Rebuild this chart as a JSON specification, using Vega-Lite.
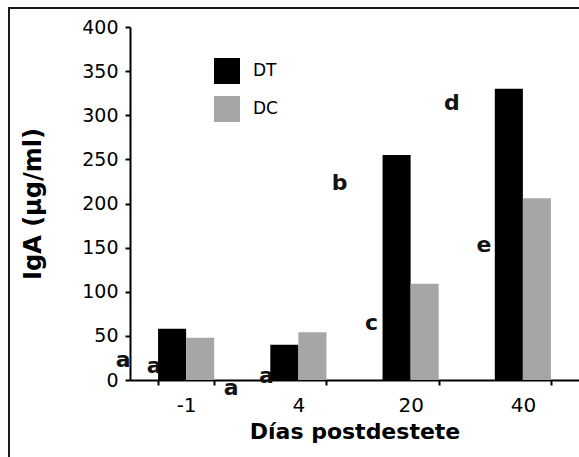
{
  "$schema": "https://vega.github.io/schema/vega-lite/v6.json",
  "width": 570,
  "height": 449,
  "padding": {"left": 9, "top": 8, "right": 0, "bottom": 0},
  "autosize": {"type": "none"},
  "background": "white",
  "config": {
    "font": "DejaVu Sans",
    "view": {"stroke": "#1a1a1a", "strokeWidth": 2, "strokeDash": [570, 1019, 449, 10]}
  },
  "encoding": {
    "x": {
      "field": "dia",
      "type": "ordinal",
      "sort": ["-1", "4", "20", "40"],
      "scale": {"range": [121, 570], "paddingInner": 0.5, "paddingOuter": 0.25},
      "axis": {
        "title": "Días postdestete",
        "offset": -77,
        "tickBand": "extent",
        "tickSize": 5,
        "tickWidth": 2,
        "tickColor": "black",
        "domainColor": "black",
        "domainWidth": 2,
        "labelAngle": 0,
        "labelPadding": 10,
        "labelFontSize": 20,
        "labelColor": "black",
        "titleFontSize": 22,
        "titleFontWeight": "bold",
        "titleColor": "black",
        "titlePadding": 6,
        "grid": false
      }
    },
    "y": {
      "field": "valor",
      "type": "quantitative",
      "scale": {"domain": [0, 400], "range": [372, 19], "nice": false},
      "axis": {
        "title": "IgA (µg/ml)",
        "offset": -121,
        "values": [0, 50, 100, 150, 200, 250, 300, 350, 400],
        "tickSize": 5,
        "tickWidth": 2,
        "tickColor": "black",
        "domainColor": "black",
        "domainWidth": 2,
        "labelPadding": 7,
        "labelFontSize": 19,
        "labelColor": "black",
        "titleFontSize": 24,
        "titleFontWeight": "bold",
        "titleColor": "black",
        "titlePadding": 36,
        "grid": false
      }
    }
  },
  "layer": [
    {
      "data": {"values": [{"dia": "-1", "letra": "a", "valor": 8}, {"dia": "4", "letra": "a", "valor": -3}]},
      "mark": {"type": "text", "dx": -32, "align": "center", "baseline": "alphabetic", "fontSize": 22, "fontWeight": "bold", "font": "DejaVu Sans", "color": "#111111"},
      "encoding": {"text": {"field": "letra"}}
    },
    {
      "data": {"values": [{"dia": "20", "letra": "c", "valor": 57}, {"dia": "40", "letra": "e", "valor": 145}]},
      "mark": {"type": "text", "dx": -39, "align": "center", "baseline": "alphabetic", "fontSize": 22, "fontWeight": "bold", "font": "DejaVu Sans", "color": "#111111"},
      "encoding": {"text": {"field": "letra"}}
    },
    {
      "data": {"values": [{"dia": "-1", "letra": "a", "valor": 15}]},
      "mark": {"type": "text", "dx": -63, "align": "center", "baseline": "alphabetic", "fontSize": 22, "fontWeight": "bold", "font": "DejaVu Sans", "color": "#111111"},
      "encoding": {"text": {"field": "letra"}}
    },
    {
      "data": {"values": [{"dia": "20", "letra": "b", "valor": 215}, {"dia": "40", "letra": "d", "valor": 306}]},
      "mark": {"type": "text", "dx": -71, "align": "center", "baseline": "alphabetic", "fontSize": 22, "fontWeight": "bold", "font": "DejaVu Sans", "color": "#111111"},
      "encoding": {"text": {"field": "letra"}}
    },
    {
      "data": {"values": [{"dia": "-1", "letra": "a", "valor": -17}]},
      "mark": {"type": "text", "dx": 45, "align": "center", "baseline": "alphabetic", "fontSize": 22, "fontWeight": "bold", "font": "DejaVu Sans", "color": "#111111"},
      "encoding": {"text": {"field": "letra"}}
    },
    {
      "data": {"values": [
        {"dia": "-1", "grupo": "DT", "valor": 58},
        {"dia": "-1", "grupo": "DC", "valor": 48},
        {"dia": "4", "grupo": "DT", "valor": 40},
        {"dia": "4", "grupo": "DC", "valor": 54},
        {"dia": "20", "grupo": "DT", "valor": 255},
        {"dia": "20", "grupo": "DC", "valor": 109},
        {"dia": "40", "grupo": "DT", "valor": 330},
        {"dia": "40", "grupo": "DC", "valor": 206}
      ]},
      "mark": {"type": "bar"},
      "encoding": {
        "xOffset": {"field": "grupo", "type": "nominal", "sort": ["DT", "DC"], "scale": {"paddingInner": 0, "paddingOuter": 0}},
        "color": {
          "field": "grupo",
          "type": "nominal",
          "sort": ["DT", "DC"],
          "scale": {"domain": ["DT", "DC"], "range": ["#000000", "#a6a6a6"]},
          "legend": {
            "orient": "none",
            "legendX": 205,
            "legendY": 50,
            "title": null,
            "padding": 0,
            "symbolType": "square",
            "symbolSize": 676,
            "symbolStrokeWidth": 0,
            "symbolOffset": 0,
            "labelFontSize": 17,
            "labelColor": "black",
            "labelOffset": 13,
            "rowPadding": 12
          }
        }
      }
    }
  ]
}
